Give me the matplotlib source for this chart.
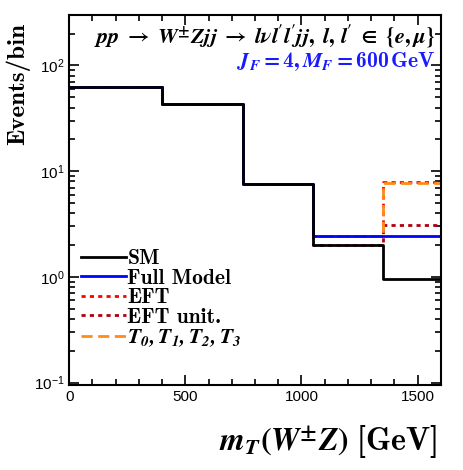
import matplotlib
matplotlib.use("Agg")
import matplotlib.pyplot as plt
import numpy as np

# bin edges in m_T(W Z) [GeV]
edges = [0, 400, 750, 1050, 1350, 1600]
sm = [62, 43, 7.5, 2.0, 0.95]
full_model = [62, 43, 7.5, 2.44, 2.44]
eft = [62, 43, 7.5, 2.44, 7.9]
eft_unit = [62, 43, 7.5, 2.0, 3.1]
t_ops = [62, 43, 7.5, 2.44, 7.8]

plt.rcParams['mathtext.fontset'] = 'custom'
plt.rcParams['mathtext.rm'] = 'STIXGeneral:bold'
plt.rcParams['mathtext.it'] = 'STIXGeneral:italic:bold'
plt.rcParams['mathtext.bf'] = 'cmb10'
plt.rcParams['mathtext.bfit'] = 'STIXGeneral:italic:bold'
plt.rcParams['font.family'] = 'Liberation Sans'

fig = plt.figure(figsize=(4.64, 4.70), dpi=100)
ax = fig.add_axes([0.149, 0.181, 0.801, 0.787])

def step(vals):
    return np.append(vals, vals[-1])

ax.step(edges, step(eft), where='post', color='#ff0000', lw=2, ls=(0, (1.5, 1.5)), label='EFT')
ax.step(edges, step(eft_unit), where='post', color='#b00010', lw=2, ls=(0, (1.5, 1.5)), label='EFT unit.')
ax.step(edges, step(t_ops), where='post', color='#ff8c1a', lw=2, ls=(0, (4, 2)), label=r'$\mathbfit{T_0, T_1, T_2, T_3}$')
ax.step(edges, step(full_model), where='post', color='#0000ff', lw=2, label='Full Model')
ax.step(edges, step(sm), where='post', color='black', lw=2, label='SM')

ax.set_yscale('log')
ax.set_xlim(0, 1600)
ax.set_ylim(0.095, 300)
ax.set_xticks([0, 500, 1000, 1500])
ax.set_xticks(np.arange(0, 1601, 100), minor=True)
ax.tick_params(which='both', direction='in', top=True, right=True, labelsize=11, width=1.2)
ax.tick_params(which='major', length=7)
ax.tick_params(which='minor', length=4)
for s in ax.spines.values():
    s.set_linewidth(1.5)

ax.set_xlabel(r'$\mathbfit{m_T}(\mathbfit{W}^{\pm}\mathbfit{Z})\ \mathbf{[GeV]}$', fontsize=23, ha='right')
ax.xaxis.set_label_coords(0.99, -0.1)
ax.set_ylabel('Events/bin', family='cmb10', fontsize=18, ha='center')
ax.yaxis.set_label_coords(-0.105, 0.813)

ax.text(0.985, 0.943,
        r'$\mathbfit{pp}\;\rightarrow\;\mathbfit{W}^{\pm}\mathbfit{Zjj}\;\rightarrow\;\mathbfit{l\nu l}^{\prime}\mathbfit{l}^{\prime}\mathbfit{jj},\; \mathbfit{l},\,\mathbfit{l}^{\prime}\;\in\;\{\mathbfit{e},\mathbfit{\mu}\}$',
        transform=ax.transAxes, ha='right', va='center', fontsize=16)
ax.text(0.985, 0.874, r'$\mathbfit{J_F} = \mathbf{4}, \mathbfit{M_F} = \mathbf{600\,GeV}$',
        transform=ax.transAxes, ha='right', va='center', fontsize=15.5, color='#1a1aff')

handles, labels = ax.get_legend_handles_labels()
order = [4, 3, 0, 1, 2]
leg = ax.legend([handles[i] for i in order], [labels[i] for i in order],
                loc='lower left', bbox_to_anchor=(-0.02, 0.045), frameon=False,
                handlelength=2.1, handletextpad=0.05, labelspacing=0.02,
                prop={'family': 'cmb10', 'size': 15.5})

fig.savefig('out.png', dpi=100)
